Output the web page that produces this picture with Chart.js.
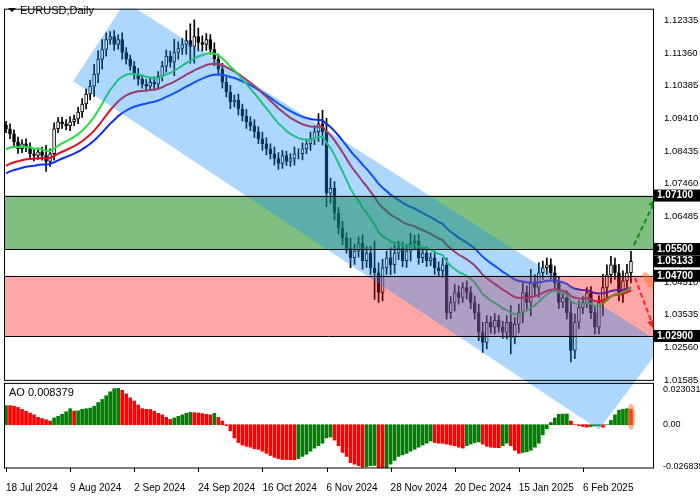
<!DOCTYPE html>
<html>
<head>
<meta charset="utf-8">
<script src="https://cdn.jsdelivr.net/npm/chart.js@4.4.1/dist/chart.umd.min.js"></script>
<style>
  html, body { margin: 0; padding: 0; background: #fff; }
  #wrap { width: 700px; height: 500px; position: relative; }
</style>
</head>
<body>
<div id="wrap"><canvas id="chart" width="700" height="500"></canvas></div>
<script>
// ---- data ----
const closes = [
  1.0910,1.0895,1.0871,1.0850,1.0865,1.0856,1.0835,1.0830,1.0841,1.0830,
  1.0812,1.0835,1.0910,1.0931,1.0925,1.0919,1.0931,1.0939,1.0960,1.0984,
  1.1014,1.1037,1.1073,1.1118,1.1147,1.1177,1.1186,1.1162,1.1177,1.1138,
  1.1118,1.1097,1.1073,1.1058,1.1043,1.1037,1.1049,1.1043,1.1067,1.1097,
  1.1127,1.1109,1.1138,1.1150,1.1162,1.1174,1.1156,1.1186,1.1168,1.1162,
  1.1177,1.1147,1.1118,1.1088,1.1049,1.1020,1.0990,1.0996,1.0969,1.0948,
  1.0931,1.0919,1.0901,1.0880,1.0865,1.0850,1.0835,1.0821,1.0806,1.0830,
  1.0812,1.0821,1.0835,1.0835,1.0850,1.0865,1.0880,1.0901,1.0925,1.0901,
  1.0717,1.0732,1.0657,1.0613,1.0583,1.0553,1.0524,1.0544,1.0568,1.0515,
  1.0538,1.0494,1.0479,1.0420,1.0494,1.0524,1.0503,1.0538,1.0553,1.0515,
  1.0544,1.0568,1.0574,1.0524,1.0538,1.0515,1.0524,1.0494,1.0485,1.0503,
  1.0360,1.0390,1.0420,1.0405,1.0435,1.0420,1.0390,1.0360,1.0301,1.0271,
  1.0331,1.0316,1.0337,1.0316,1.0301,1.0331,1.0286,1.0325,1.0360,1.0420,
  1.0390,1.0449,1.0435,1.0479,1.0494,1.0503,1.0479,1.0449,1.0390,1.0405,
  1.0360,1.0247,1.0331,1.0375,1.0390,1.0420,1.0360,1.0316,1.0390,1.0435,
  1.0473,1.0503,1.0479,1.0420,1.0455,1.0479,1.0513
];
const firstOpen = 1.0920;
const wicks = [
  .0012,.0015,.0012,.0014,.0012,.0015,.0012,.0016,.0012,.0014,
  .0030,.0015,.0018,.0012,.0014,.0012,.0015,.0012,.0014,.0016,
  .0015,.0018,.0030,.0025,.0030,.0020,.0015,.0018,.0014,.0020,
  .0015,.0012,.0015,.0018,.0012,.0015,.0012,.0016,.0014,.0015,
  .0018,.0015,.0040,.0020,.0018,.0030,.0050,.0050,.0025,.0020,
  .0018,.0015,.0020,.0015,.0018,.0015,.0020,.0015,.0018,.0015,
  .0020,.0015,.0018,.0015,.0020,.0018,.0015,.0020,.0018,.0015,
  .0012,.0015,.0020,.0015,.0018,.0015,.0020,.0018,.0030,.0040,
  .0040,.0030,.0020,.0018,.0020,.0015,.0030,.0020,.0018,.0025,
  .0020,.0020,.0080,.0030,.0025,.0020,.0030,.0025,.0020,.0018,
  .0020,.0030,.0018,.0020,.0015,.0018,.0015,.0020,.0018,.0020,
  .0020,.0018,.0025,.0020,.0015,.0020,.0018,.0020,.0025,.0030,
  .0020,.0018,.0020,.0015,.0018,.0020,.0050,.0020,.0025,.0030,
  .0020,.0040,.0025,.0030,.0020,.0020,.0018,.0020,.0018,.0015,
  .0020,.0035,.0025,.0020,.0018,.0015,.0018,.0020,.0020,.0040,
  .0030,.0025,.0020,.0025,.0030,.0025,.0030
];
const aoValues = [
  .0124,.0124,.0120,.0112,.0100,.0088,.0076,.0064,.0048,.0040,
  .0032,.0024,.0044,.0054,.0068,.0084,.0104,.0088,.0090,.0100,
  .0104,.0108,.0120,.0144,.0164,.0188,.0214,.0234,.0236,.0224,
  .0200,.0174,.0154,.0128,.0104,.0100,.0099,.0088,.0074,.0064,
  .0048,.0034,.0044,.0054,.0064,.0074,.0080,.0078,.0076,.0072,
  .0068,.0064,.0074,.0048,.0024,-.0006,-.0040,-.0086,-.0116,-.0132,
  -.0140,-.0146,-.0156,-.0160,-.0172,-.0186,-.0200,-.0212,-.0220,-.0226,
  -.0226,-.0227,-.0228,-.0220,-.0206,-.0192,-.0172,-.0152,-.0136,-.0120,
  -.0086,-.0080,-.0100,-.0136,-.0180,-.0206,-.0246,-.0256,-.0266,-.0276,
  -.0272,-.0266,-.0264,-.0280,-.0284,-.0282,-.0256,-.0232,-.0206,-.0196,
  -.0186,-.0172,-.0160,-.0146,-.0132,-.0120,-.0106,-.0116,-.0120,-.0121,
  -.0126,-.0132,-.0136,-.0146,-.0152,-.0136,-.0126,-.0116,-.0112,-.0126,
  -.0140,-.0146,-.0148,-.0149,-.0136,-.0120,-.0136,-.0166,-.0186,-.0180,
  -.0176,-.0166,-.0146,-.0120,-.0066,-.0026,.0014,.0044,.0068,.0069,
  .0070,.0024,.0000,-.0006,-.0012,-.0016,-.0012,-.0008,-.0007,-.0016,
  .0000,.0028,.0064,.0094,.0100,.0104,.0100
];
const aoLabel = 'AO 0.008379';
const maPeriods = [17, 29, 41];
const maStart = [1.0841, 1.0791, 1.0770];
const maColors = ['#22dd44', '#e01020', '#0a2cff'];
const emptySlots = 5;
const tickIndex = [0, 16, 32, 48, 64, 80, 96, 112, 128, 144];
const tickLabels = ['18 Jul 2024','9 Aug 2024','2 Sep 2024','24 Sep 2024','16 Oct 2024',
                    '6 Nov 2024','28 Nov 2024','20 Dec 2024','15 Jan 2025','6 Feb 2025'];
const priceTicks = [1.12335,1.11360,1.10385,1.09410,1.08435,1.07460,1.06485,1.04510,1.03535,1.02560,1.01585];
const aoTicks = [0.023031, 0, -0.026835];
const levels = [1.0710, 1.0550, 1.0470, 1.0290];
const greenZone = [1.0550, 1.0710];
const redZone = [1.0290, 1.0470];
// channel corners as [bar index, price]
const channel = [[16.75,1.1052],[29.75,1.1290],[164,1.0265],[148,1.0010]];
const upArrow = [[156.75,1.0562],[162.25,1.0702]];
const downArrow = [[157,1.0464],[161.8,1.0310]];
const lastPrice = 1.05133;

// ---- build datasets ----
const nBars = closes.length;
const labels = [];
for (let i = 0; i < nBars + emptySlots; i++) labels.push(String(i));
const opens = closes.map((c, i) => i === 0 ? firstOpen : closes[i - 1]);
const bodies = closes.map((c, i) => [opens[i], c]);
const shadows = closes.map((c, i) => [Math.min(opens[i], c) - wicks[i], Math.max(opens[i], c) + wicks[i]]);
const bodyFill = closes.map((c, i) => c >= opens[i] ? '#ffffff' : '#000000');

function ema(period, start) {
  const k = 2 / (period + 1);
  let v = start;
  return closes.map(c => (v = v + k * (c - v)));
}
const maLines = maPeriods.map((p, j) => ({
  type: 'line', data: ema(p, maStart[j]), yAxisID: 'y',
  borderColor: maColors[j], borderWidth: 2, pointRadius: 0, tension: 0, order: 1
}));
const aoColors = aoValues.map((v, i) => (i === 0 || v > aoValues[i - 1]) ? '#008000' : '#ff0000');

// ---- overlays ----
const overlayPlugin = {
  id: 'overlays',
  afterDatasetsDraw(chart) {
    const { ctx, chartArea, scales } = chart;
    const x = scales.x, y = scales.y, yao = scales.yao;
    const px = i => x.getPixelForValue(i);
    const L = chartArea.left, R = chartArea.right;
    ctx.save();
    ctx.beginPath(); ctx.rect(L, chartArea.top, R - L, chartArea.bottom - chartArea.top); ctx.clip();
    ctx.fillStyle = 'rgba(0,128,0,0.5)';
    ctx.fillRect(L, y.getPixelForValue(greenZone[1]), R - L, y.getPixelForValue(greenZone[0]) - y.getPixelForValue(greenZone[1]));
    ctx.fillStyle = 'rgba(255,0,0,0.35)';
    ctx.fillRect(L, y.getPixelForValue(redZone[1]), R - L, y.getPixelForValue(redZone[0]) - y.getPixelForValue(redZone[1]));
    ctx.fillStyle = 'rgba(30,144,250,0.36)';
    ctx.beginPath();
    channel.forEach((p, k) => { const X = px(p[0]), Y = y.getPixelForValue(p[1]); k ? ctx.lineTo(X, Y) : ctx.moveTo(X, Y); });
    ctx.closePath(); ctx.fill();
    ctx.strokeStyle = '#000'; ctx.lineWidth = 1;
    levels.forEach(l => { const Y = Math.round(y.getPixelForValue(l)) + 0.5; ctx.beginPath(); ctx.moveTo(L, Y); ctx.lineTo(R, Y); ctx.stroke(); });
    const arrow = (a, col) => {
      const x1 = px(a[0][0]), y1 = y.getPixelForValue(a[0][1]), x2 = px(a[1][0]), y2 = y.getPixelForValue(a[1][1]);
      const ang = Math.atan2(y2 - y1, x2 - x1);
      ctx.strokeStyle = col; ctx.fillStyle = col; ctx.lineWidth = 2; ctx.setLineDash([5, 3]);
      ctx.beginPath(); ctx.moveTo(x1, y1); ctx.lineTo(x2 - 6 * Math.cos(ang), y2 - 6 * Math.sin(ang)); ctx.stroke();
      ctx.setLineDash([]);
      ctx.beginPath(); ctx.moveTo(x2, y2);
      ctx.lineTo(x2 - 10 * Math.cos(ang - 0.45), y2 - 10 * Math.sin(ang - 0.45));
      ctx.lineTo(x2 - 10 * Math.cos(ang + 0.45), y2 - 10 * Math.sin(ang + 0.45));
      ctx.closePath(); ctx.fill();
    };
    arrow(upArrow, '#1a8a1a');
    arrow(downArrow, '#ff2020');
    ctx.fillStyle = 'rgba(255,120,40,0.55)';
    ctx.beginPath(); ctx.ellipse(px(160.5), y.getPixelForValue(1.0455), 4, 10, -0.6, 0, Math.PI * 2); ctx.fill();
    ctx.beginPath(); ctx.ellipse(px(nBars - 1), yao.getPixelForValue(0.0052), 4, 13, 0, 0, Math.PI * 2); ctx.fill();
    ctx.restore();

    ctx.save();
    ctx.strokeStyle = '#000'; ctx.lineWidth = 1;
    ctx.strokeRect(L + 0.5, y.top + 0.5, R - L, y.bottom - y.top - 2);
    ctx.strokeRect(L + 0.5, yao.top + 1.5, R - L, yao.bottom - yao.top - 1.5);
    ctx.font = 'bold 10px "Liberation Sans", Arial, sans-serif';
    ctx.textBaseline = 'middle';
    const boxes = levels.slice(0, 2).concat([lastPrice], levels.slice(2));
    boxes.forEach(v => {
      const Y = y.getPixelForValue(v);
      ctx.fillStyle = '#000'; ctx.fillRect(R + 1, Y - 6, 46, 12);
      ctx.fillStyle = '#fff'; ctx.fillText(v.toFixed(5), R + 4, Y);
    });
    ctx.fillStyle = '#000';
    ctx.beginPath(); ctx.moveTo(L + 4, 8); ctx.lineTo(L + 12, 8); ctx.lineTo(L + 8, 12); ctx.closePath(); ctx.fill();
    ctx.font = '11px "Liberation Sans", Arial, sans-serif';
    ctx.textBaseline = 'top';
    ctx.fillText('EURUSD,Daily', L + 16, 5);
    ctx.fillText(aoLabel, L + 5, yao.top + 6);
    tickIndex.forEach(i => { const X = Math.round(px(i)) + 0.5; ctx.beginPath(); ctx.moveTo(X, yao.bottom); ctx.lineTo(X, yao.bottom + 4); ctx.stroke(); });
    ctx.restore();
  }
};

const tickFont = { family: '"Liberation Sans", Arial, sans-serif', size: 9.5 };
new Chart(document.getElementById('chart'), {
  data: {
    labels: labels,
    datasets: [
      ...maLines,
      { type: 'bar', data: bodies, yAxisID: 'y', backgroundColor: bodyFill, borderColor: '#000', borderWidth: 1,
        borderSkipped: false, barThickness: 3, grouped: false, order: 2 },
      { type: 'bar', data: shadows, yAxisID: 'y', backgroundColor: '#000', barThickness: 1, grouped: false, order: 3 },
      { type: 'bar', data: aoValues, yAxisID: 'yao', backgroundColor: aoColors, barThickness: 3, grouped: false, order: 4 }
    ]
  },
  options: {
    responsive: false, animation: false, events: [],
    layout: { padding: { left: 3, top: 4, right: 0, bottom: 0 } },
    plugins: { legend: { display: false }, tooltip: { enabled: false } },
    scales: {
      x: {
        type: 'category', offset: true,
        grid: { display: false }, border: { display: false },
        ticks: {
          autoSkip: false, maxRotation: 0, align: 'start', padding: 6, color: '#000', font: { family: '"Liberation Sans", Arial, sans-serif', size: 10 },
          callback: (v, i) => { const k = tickIndex.indexOf(i); return k >= 0 ? tickLabels[k] : null; }
        }
      },
      y: {
        position: 'right', stack: 'panels', stackWeight: 377, min: 1.01526, max: 1.12691,
        grid: { display: false }, border: { display: false },
        afterBuildTicks: s => { s.ticks = priceTicks.map(v => ({ value: v })); },
        afterFit: s => { s.width = 47; },
        ticks: { color: '#000', font: tickFont, padding: 3, callback: v => v.toFixed(5) }
      },
      yao: {
        position: 'right', stack: 'panels', stackWeight: 87, min: -0.0281, max: 0.0278,
        grid: { display: false }, border: { display: false },
        afterBuildTicks: s => { s.ticks = aoTicks.map(v => ({ value: v })); },
        afterFit: s => { s.width = 47; },
        ticks: { color: '#000', font: { family: '"Liberation Sans", Arial, sans-serif', size: 9 }, padding: 2, callback: v => v === 0 ? '0.00' : v.toFixed(6) }
      }
    }
  },
  plugins: [overlayPlugin]
});
</script>
</body>
</html>
